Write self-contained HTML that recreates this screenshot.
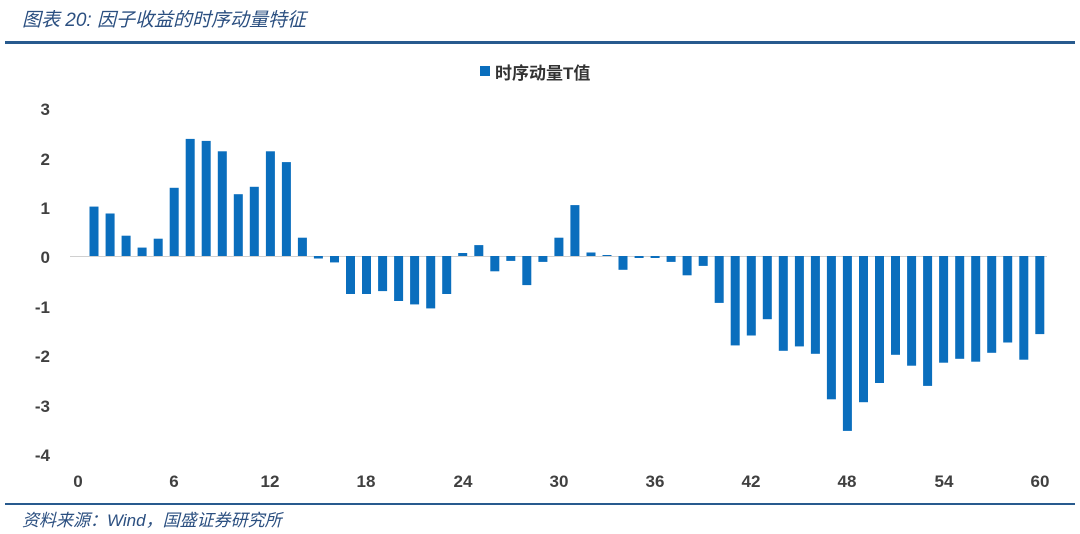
<!DOCTYPE html>
<html><head><meta charset="utf-8"><style>
html,body{margin:0;padding:0;background:#fff;width:1080px;height:534px;overflow:hidden}
</style></head><body>
<svg width="1080" height="534" xmlns="http://www.w3.org/2000/svg" font-family="'Liberation Sans','Noto Sans CJK SC',sans-serif">
<text x="22" y="26" font-size="19" font-style="italic" fill="#2b4f80">图表 20:  因子收益的时序动量特征</text>
<rect x="5" y="41" width="1070" height="3" fill="#285a8e"/>
<rect x="5" y="503" width="1070" height="2" fill="#285a8e"/>
<text x="22" y="526" font-size="17" font-style="italic" fill="#2b4f80">资料来源：Wind，国盛证券研究所</text>
<rect x="480" y="66" width="10" height="10" fill="#0a6ebd"/>
<text x="495" y="79" font-size="17" font-weight="bold" fill="#333">时序动量T值</text>
<g font-size="17" font-weight="bold" fill="#404040" text-anchor="end">
<text x="50" y="115">3</text><text x="50" y="165">2</text><text x="50" y="214">1</text><text x="50" y="263">0</text><text x="50" y="313">-1</text><text x="50" y="362">-2</text><text x="50" y="412">-3</text><text x="50" y="461">-4</text>
</g>
<g font-size="17" font-weight="bold" fill="#404040" text-anchor="middle">
<text x="78" y="487">0</text><text x="174" y="487">6</text><text x="270" y="487">12</text><text x="366" y="487">18</text><text x="463" y="487">24</text><text x="559" y="487">30</text><text x="655" y="487">36</text><text x="751" y="487">42</text><text x="847" y="487">48</text><text x="944" y="487">54</text><text x="1040" y="487">60</text>
</g>
<line x1="70" y1="256.5" x2="1047" y2="256.5" stroke="#d0d0d0" stroke-width="1"/>
<g fill="#0a6ebd" transform="translate(0,256) scale(1,-1)">
<rect x="89.5" y="0" width="9" height="49.4"/>
<rect x="105.6" y="0" width="9" height="42.5"/>
<rect x="121.6" y="0" width="9" height="20.3"/>
<rect x="137.6" y="0" width="9" height="8.4"/>
<rect x="153.7" y="0" width="9" height="17.3"/>
<rect x="169.7" y="0" width="9" height="68.2"/>
<rect x="185.7" y="0" width="9" height="117.1"/>
<rect x="201.7" y="0" width="9" height="115.1"/>
<rect x="217.8" y="0" width="9" height="104.7"/>
<rect x="233.8" y="0" width="9" height="61.8"/>
<rect x="249.8" y="0" width="9" height="69.2"/>
<rect x="265.9" y="0" width="9" height="104.7"/>
<rect x="281.9" y="0" width="9" height="93.9"/>
<rect x="297.9" y="0" width="9" height="18.3"/>
<rect x="313.9" y="-2.5" width="9" height="2.5"/>
<rect x="330.0" y="-6.4" width="9" height="6.4"/>
<rect x="346.0" y="-38" width="9" height="38"/>
<rect x="362.0" y="-38" width="9" height="38"/>
<rect x="378.1" y="-35.1" width="9" height="35.1"/>
<rect x="394.1" y="-45" width="9" height="45"/>
<rect x="410.1" y="-48.4" width="9" height="48.4"/>
<rect x="426.2" y="-52.4" width="9" height="52.4"/>
<rect x="442.2" y="-38" width="9" height="38"/>
<rect x="458.2" y="0" width="9" height="3"/>
<rect x="474.3" y="0" width="9" height="10.9"/>
<rect x="490.3" y="-15.3" width="9" height="15.3"/>
<rect x="506.3" y="-4.9" width="9" height="4.9"/>
<rect x="522.3" y="-29.1" width="9" height="29.1"/>
<rect x="538.4" y="-5.9" width="9" height="5.9"/>
<rect x="554.4" y="0" width="9" height="18.3"/>
<rect x="570.4" y="0" width="9" height="50.9"/>
<rect x="586.5" y="0" width="9" height="3.5"/>
<rect x="602.5" y="0" width="9" height="1"/>
<rect x="618.5" y="-13.8" width="9" height="13.8"/>
<rect x="634.6" y="-2" width="9" height="2"/>
<rect x="650.6" y="-2" width="9" height="2"/>
<rect x="666.6" y="-5.9" width="9" height="5.9"/>
<rect x="682.6" y="-19.3" width="9" height="19.3"/>
<rect x="698.7" y="-9.9" width="9" height="9.9"/>
<rect x="714.7" y="-46.9" width="9" height="46.9"/>
<rect x="730.7" y="-89.4" width="9" height="89.4"/>
<rect x="746.8" y="-79.5" width="9" height="79.5"/>
<rect x="762.8" y="-63.2" width="9" height="63.2"/>
<rect x="778.8" y="-94.8" width="9" height="94.8"/>
<rect x="794.9" y="-90.4" width="9" height="90.4"/>
<rect x="810.9" y="-97.8" width="9" height="97.8"/>
<rect x="826.9" y="-143.3" width="9" height="143.3"/>
<rect x="842.9" y="-174.9" width="9" height="174.9"/>
<rect x="859.0" y="-146.2" width="9" height="146.2"/>
<rect x="875.0" y="-127" width="9" height="127"/>
<rect x="891.0" y="-98.8" width="9" height="98.8"/>
<rect x="907.1" y="-109.7" width="9" height="109.7"/>
<rect x="923.1" y="-129.9" width="9" height="129.9"/>
<rect x="939.1" y="-106.7" width="9" height="106.7"/>
<rect x="955.2" y="-102.8" width="9" height="102.8"/>
<rect x="971.2" y="-105.7" width="9" height="105.7"/>
<rect x="987.2" y="-96.8" width="9" height="96.8"/>
<rect x="1003.2" y="-86.5" width="9" height="86.5"/>
<rect x="1019.3" y="-103.7" width="9" height="103.7"/>
<rect x="1035.3" y="-78.1" width="9" height="78.1"/>
</g>
</svg>
</body></html>
